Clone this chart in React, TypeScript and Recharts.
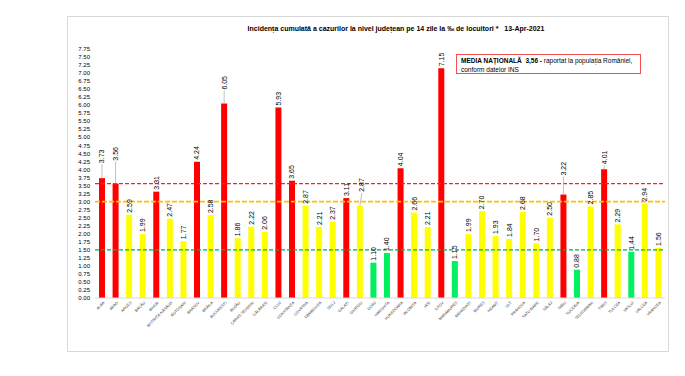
import { Bar, BarChart, Cell, ReferenceLine, XAxis, YAxis } from "recharts";

const counties = [
  "ALBA", "ARAD", "ARGEȘ", "BACĂU", "BIHOR", "BISTRIȚA-NĂSĂUD", "BOTOȘANI", "BRAȘOV", "BRĂILA", "BUCUREȘTI",
  "BUZĂU", "CARAȘ-SEVERIN", "CĂLĂRAȘI", "CLUJ", "CONSTANȚA", "COVASNA", "DÂMBOVIȚA", "DOLJ", "GALAȚI", "GIURGIU",
  "GORJ", "HARGHITA", "HUNEDOARA", "IALOMIȚA", "IAȘI", "ILFOV", "MARAMUREȘ", "MEHEDINȚI", "MUREȘ", "NEAMȚ",
  "OLT", "PRAHOVA", "SATU MARE", "SĂLAJ", "SIBIU", "SUCEAVA", "TELEORMAN", "TIMIȘ", "TULCEA", "VASLUI",
  "VÂLCEA", "VRANCEA",
];

const incidence = [
  3.73, 3.56, 2.59, 1.99, 3.31, 2.47, 1.77, 4.24, 2.58, 6.05,
  1.86, 2.22, 2.06, 5.93, 3.65, 2.87, 2.21, 2.37, 3.11, 2.87,
  1.1, 1.4, 4.04, 2.66, 2.21, 7.15, 1.15, 1.99, 2.7, 1.93,
  1.84, 2.68, 1.7, 2.5, 3.22, 0.88, 2.85, 4.01, 2.29, 1.44,
  2.94, 1.56,
];

const yTicks = [
  0, 0.25, 0.5, 0.75, 1, 1.25, 1.5, 1.75, 2, 2.25, 2.5, 2.75, 3, 3.25, 3.5, 3.75,
  4, 4.25, 4.5, 4.75, 5, 5.25, 5.5, 5.75, 6, 6.25, 6.5, 6.75, 7, 7.25, 7.5, 7.75,
];

const nationalAvg = 3.56;
const upperLimit = 3;
const lowerLimit = 1.5;

// labels pushed up with a leader line, in px
const labelLift: Record<string, [number, number]> = {
  ALBA: [13, 0],
  ARAD: [21, 0],
  BUCUREȘTI: [12, 0],
  GIURGIU: [12, 2],
  SIBIU: [17, 0],
  TIMIȘ: [3, 0],
};

const data = counties.map((name, i) => ({ name, value: incidence[i] }));

const narrow = "'Liberation Sans Narrow', 'Liberation Sans', Arial, sans-serif";

function barColor(v: number) {
  if (v >= upperLimit) return "#FF0000";
  if (v < lowerLimit) return "#00F060";
  return "#FFFF00";
}

const CountyTick = ({ x, y, payload }: any) => {
  const tx = x + 3;
  const ty = y + 5;
  return (
    <text x={tx} y={ty} transform={`rotate(-45, ${tx}, ${ty})`} textAnchor="end" fontSize={3.8} fontFamily={narrow} fill="#404040">
      {payload.value}
    </text>
  );
};

const ValueLabel = (props: any) => {
  const { x, y, width, value, index } = props;
  const cx = x + width / 2;
  const [lift, dx] = labelLift[counties[index]] ?? [0, 0];
  const bottom = y - 2 - lift;
  const lx = cx + dx;
  return (
    <g>
      {lift > 0 && <line x1={cx} y1={y} x2={lx} y2={bottom + 1} stroke="#a6a6a6" strokeWidth={0.7} />}
      <text
        x={lx}
        y={bottom}
        transform={`rotate(-90, ${lx}, ${bottom})`}
        textAnchor="start"
        dominantBaseline="central"
        fontSize={7}
        fontFamily="'Liberation Sans', Arial, sans-serif"
        fill="#000"
      >
        {Number(value).toFixed(2)}
      </text>
    </g>
  );
};

export default function App() {
  return (
    <div style={{ position: "absolute", left: 0, top: 0, width: 685, height: 376, background: "#fff", overflow: "hidden" }}>
      <div style={{ position: "absolute", left: 67, top: 16, width: 600, height: 334, border: "1px solid #d9d9d9" }} />
      <div
        style={{
          position: "absolute",
          left: 196,
          width: 400,
          top: 25,
          textAlign: "center",
          fontFamily: narrow,
          fontWeight: "bold",
          fontSize: 7,
          color: "#000",
          whiteSpace: "pre",
        }}
      >
        {"Incidența cumulată a cazurilor la nivel județean pe 14 zile la ‰ de locuitori *   13-Apr-2021"}
      </div>
      <BarChart
        width={685}
        height={376}
        data={data}
        margin={{ top: 49, right: 20, left: 0, bottom: 38 }}
        style={{ position: "absolute", left: 0, top: 0 }}
      >
        <YAxis
          width={95}
          domain={[0, 7.75]}
          ticks={yTicks}
          interval={0}
          axisLine={false}
          tickLine={false}
          tickSize={2}
          tickMargin={3}
          tickFormatter={(v: number) => v.toFixed(2)}
          tick={{ fontSize: 6, fontFamily: narrow, fill: "#000" }}
        />
        <XAxis
          dataKey="name"
          height={40}
          interval={0}
          tickLine={false}
          tickSize={0}
          tickMargin={0}
          axisLine={{ stroke: "#d9d9d9" }}
          tick={<CountyTick />}
        />
        <Bar dataKey="value" barSize={6} isAnimationActive={false} label={<ValueLabel />}>
          {data.map((d) => (
            <Cell key={d.name} fill={barColor(d.value)} />
          ))}
        </Bar>
        <ReferenceLine y={nationalAvg} stroke="#FF2020" strokeWidth={1.3} strokeDasharray="4 2" />
        <ReferenceLine y={upperLimit} stroke="#FFC000" strokeWidth={1.8} strokeDasharray="5 2" />
        <ReferenceLine y={lowerLimit} stroke="#00B050" strokeWidth={1.3} strokeDasharray="4 2" />
      </BarChart>
      <div
        style={{
          position: "absolute",
          left: 456,
          top: 54,
          width: 185,
          height: 20,
          border: "1px solid #f05050",
          background: "#fff",
          fontFamily: narrow,
          fontSize: 6.5,
          lineHeight: "8.6px",
          padding: "2px 0 0 4px",
          boxSizing: "border-box",
          color: "#000",
        }}
      >
        <div>
          <b>MEDIA NAȚIONALĂ&nbsp; 3,56 -</b> raportat la populația României,
        </div>
        <div>conform datelor INS</div>
      </div>
    </div>
  );
}
